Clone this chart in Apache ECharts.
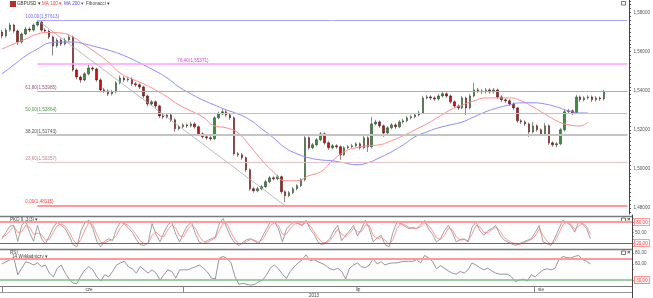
<!DOCTYPE html>
<html><head><meta charset="utf-8">
<script src="https://cdn.jsdelivr.net/npm/echarts@6/dist/echarts.min.js"></script>
<style>html,body{margin:0;padding:0;background:#fff}#c{width:653px;height:298px}</style>
</head><body><div id="c"></div>
<script>
// ---- price candles (GBPUSD) ----
const open = [1.5700,1.5680,1.5710,1.5736,1.5705,1.5649,1.5690,1.5715,1.5710,1.5736,
1.5751,1.5710,1.5705,1.5675,1.5629,1.5659,1.5639,1.5659,1.5675,1.5506,
1.5470,1.5455,1.5486,1.5516,1.5511,1.5455,1.5404,1.5399,1.5384,1.5394,
1.5440,1.5465,1.5455,1.5460,1.5435,1.5430,1.5419,1.5373,1.5332,1.5343,
1.5322,1.5271,1.5266,1.5276,1.5251,1.5205,1.5215,1.5225,1.5220,1.5230,
1.5215,1.5179,1.5164,1.5159,1.5154,1.5261,1.5281,1.5292,1.5276,1.5261,
1.5077,1.5072,1.5057,1.4995,1.4898,1.4888,1.4898,1.4909,1.4934,1.4954,
1.4949,1.4960,1.4883,1.4863,1.4878,1.4898,1.4914,1.4944,1.5159,1.5108,
1.5123,1.5149,1.5179,1.5133,1.5108,1.5118,1.5113,1.5072,1.5108,1.5113,
1.5118,1.5128,1.5108,1.5159,1.5113,1.5230,1.5240,1.5220,1.5184,1.5210,
1.5225,1.5215,1.5240,1.5246,1.5261,1.5266,1.5276,1.5286,1.5363,1.5368,
1.5363,1.5358,1.5373,1.5384,1.5373,1.5343,1.5322,1.5312,1.5363,1.5312,
1.5373,1.5404,1.5399,1.5394,1.5404,1.5394,1.5404,1.5368,1.5353,1.5348,
1.5332,1.5312,1.5246,1.5240,1.5230,1.5189,1.5220,1.5200,1.5179,1.5220,
1.5133,1.5123,1.5128,1.5200,1.5292,1.5297,1.5286,1.5368,1.5353,1.5363,
1.5368,1.5353,1.5363,1.5358];
const close = [1.5680,1.5710,1.5736,1.5705,1.5649,1.5690,1.5715,1.5710,1.5736,1.5751,
1.5710,1.5705,1.5675,1.5629,1.5659,1.5639,1.5659,1.5675,1.5506,1.5470,
1.5455,1.5486,1.5516,1.5511,1.5455,1.5404,1.5399,1.5384,1.5394,1.5440,
1.5465,1.5455,1.5460,1.5435,1.5430,1.5419,1.5373,1.5332,1.5343,1.5322,
1.5271,1.5266,1.5276,1.5251,1.5205,1.5215,1.5225,1.5220,1.5230,1.5215,
1.5179,1.5164,1.5159,1.5154,1.5261,1.5281,1.5292,1.5276,1.5261,1.5077,
1.5072,1.5057,1.4995,1.4898,1.4888,1.4898,1.4909,1.4934,1.4954,1.4949,
1.4960,1.4883,1.4863,1.4878,1.4898,1.4914,1.4944,1.5159,1.5108,1.5123,
1.5149,1.5179,1.5133,1.5108,1.5118,1.5113,1.5072,1.5108,1.5113,1.5118,
1.5128,1.5108,1.5159,1.5113,1.5230,1.5240,1.5220,1.5184,1.5210,1.5225,
1.5215,1.5240,1.5246,1.5261,1.5266,1.5276,1.5286,1.5363,1.5368,1.5363,
1.5358,1.5373,1.5384,1.5373,1.5343,1.5322,1.5312,1.5363,1.5312,1.5373,
1.5404,1.5399,1.5394,1.5404,1.5394,1.5404,1.5368,1.5353,1.5348,1.5332,
1.5312,1.5246,1.5240,1.5230,1.5189,1.5220,1.5200,1.5179,1.5220,1.5133,
1.5123,1.5128,1.5200,1.5292,1.5297,1.5286,1.5368,1.5353,1.5363,1.5368,
1.5353,1.5363,1.5358,1.5394];
const low = [1.5668,1.5672,1.5702,1.5697,1.5634,1.5641,1.5684,1.5699,1.5703,1.5728,
1.5702,1.5694,1.5664,1.5580,1.5620,1.5628,1.5631,1.5650,1.5498,1.5458,
1.5440,1.5448,1.5478,1.5500,1.5446,1.5392,1.5388,1.5373,1.5376,1.5387,
1.5432,1.5444,1.5446,1.5424,1.5420,1.5408,1.5362,1.5320,1.5324,1.5312,
1.5261,1.5256,1.5258,1.5240,1.5190,1.5197,1.5207,1.5210,1.5212,1.5206,
1.5170,1.5155,1.5149,1.5144,1.5148,1.5254,1.5274,1.5266,1.5251,1.5068,
1.5062,1.5046,1.4985,1.4888,1.4878,1.4880,1.4890,1.4902,1.4926,1.4940,
1.4941,1.4873,1.4830,1.4855,1.4870,1.4890,1.4906,1.4936,1.5098,1.5100,
1.5115,1.5142,1.5124,1.5098,1.5100,1.5103,1.5046,1.5065,1.5100,1.5105,
1.5110,1.5098,1.5100,1.5087,1.5105,1.5222,1.5210,1.5164,1.5176,1.5202,
1.5205,1.5208,1.5232,1.5238,1.5253,1.5258,1.5268,1.5279,1.5355,1.5352,
1.5348,1.5350,1.5365,1.5363,1.5333,1.5312,1.5302,1.5305,1.5276,1.5305,
1.5366,1.5389,1.5384,1.5386,1.5384,1.5386,1.5358,1.5343,1.5338,1.5322,
1.5302,1.5236,1.5230,1.5220,1.5164,1.5181,1.5190,1.5169,1.5171,1.5123,
1.5113,1.5110,1.5120,1.5192,1.5284,1.5276,1.5280,1.5343,1.5345,1.5355,
1.5343,1.5345,1.5348,1.5350];
const high = [1.5712,1.5720,1.5746,1.5742,1.5712,1.5698,1.5726,1.5724,1.5745,1.5761,
1.5757,1.5719,1.5712,1.5683,1.5668,1.5667,1.5670,1.5690,1.5682,1.5514,
1.5478,1.5495,1.5532,1.5524,1.5518,1.5463,1.5414,1.5407,1.5404,1.5448,
1.5478,1.5474,1.5471,1.5468,1.5444,1.5438,1.5425,1.5380,1.5352,1.5350,
1.5328,1.5280,1.5286,1.5283,1.5258,1.5224,1.5234,1.5232,1.5240,1.5238,
1.5222,1.5186,1.5172,1.5167,1.5270,1.5292,1.5307,1.5300,1.5284,1.5268,
1.5086,1.5081,1.5063,1.5002,1.4906,1.4908,1.4918,1.4944,1.4964,1.4962,
1.4970,1.4966,1.4890,1.4887,1.4907,1.4922,1.4952,1.5174,1.5166,1.5133,
1.5158,1.5189,1.5186,1.5140,1.5127,1.5126,1.5120,1.5116,1.5122,1.5128,
1.5137,1.5135,1.5170,1.5166,1.5266,1.5251,1.5247,1.5227,1.5219,1.5234,
1.5233,1.5249,1.5256,1.5270,1.5276,1.5286,1.5297,1.5374,1.5378,1.5376,
1.5371,1.5384,1.5394,1.5391,1.5380,1.5350,1.5330,1.5373,1.5370,1.5384,
1.5440,1.5414,1.5408,1.5414,1.5412,1.5414,1.5410,1.5376,1.5360,1.5356,
1.5340,1.5318,1.5254,1.5248,1.5237,1.5240,1.5228,1.5207,1.5235,1.5227,
1.5140,1.5137,1.5210,1.5302,1.5307,1.5304,1.5378,1.5375,1.5372,1.5377,
1.5375,1.5372,1.5370,1.5404];

// ---- moving averages, read at bar slots ----
const maSlots = [0,3,6,9,12,15,18,21,24,27,30,33,36,39,42,45,48,51,54,57,60,63,66,69,72,75,78,81,84,87,90,93,96,99,102,105,108,111,114,117,120,123,126,129,132,135,138,141,144,147,149];
const ma100 = [1.5613,1.5639,1.5664,1.5690,1.5698,1.5695,1.5675,1.5634,1.5593,1.5547,1.5491,1.5460,1.5435,1.5404,1.5368,1.5327,1.5297,1.5266,1.5220,1.5210,1.5184,1.5118,1.5046,1.4985,1.4939,1.4939,1.4965,1.4985,1.5041,1.5087,1.5108,1.5118,1.5123,1.5144,1.5169,1.5200,1.5230,1.5266,1.5302,1.5327,1.5348,1.5363,1.5363,1.5363,1.5348,1.5317,1.5281,1.5246,1.5225,1.5220,1.5240];
const ma200 = [1.5486,1.5532,1.5578,1.5613,1.5644,1.5649,1.5649,1.5639,1.5624,1.5608,1.5588,1.5562,1.5532,1.5501,1.5465,1.5419,1.5384,1.5353,1.5327,1.5302,1.5281,1.5251,1.5205,1.5159,1.5108,1.5077,1.5057,1.5046,1.5041,1.5031,1.5021,1.5031,1.5057,1.5087,1.5123,1.5164,1.5189,1.5210,1.5225,1.5240,1.5266,1.5292,1.5312,1.5327,1.5338,1.5338,1.5332,1.5317,1.5297,1.5286,1.5286];

// ---- oscillators ----
const stochK = [32,50,68,70,25,70,84,50,25,70,32,18,40,65,80,70,61,40,15,9,
55,78,85,62,25,9,25,32,27,60,80,75,62,51,30,15,13,20,75,45,
23,50,72,80,45,23,50,70,80,45,22,18,27,32,37,75,90,61,35,20,
13,22,30,32,25,18,40,61,82,80,61,23,60,72,80,75,70,85,60,45,
23,15,22,32,55,70,27,42,55,70,40,60,85,61,23,35,42,15,9,51,
80,75,68,61,64,61,72,85,60,45,23,32,55,70,51,23,30,32,23,65,
80,55,42,55,61,70,45,30,23,18,13,18,23,28,32,50,70,23,18,13,
35,61,85,78,70,51,80,75,61,32];
const stochD = [38,42,55,68,50,52,70,65,45,48,45,28,30,50,70,74,68,52,30,16,
30,58,78,72,45,22,20,26,30,42,64,76,70,58,44,26,18,18,42,52,
40,38,58,72,62,40,38,58,72,62,38,24,22,28,34,55,78,74,50,30,
18,18,25,30,28,22,30,50,70,78,70,45,45,62,74,76,72,78,70,52,
35,22,20,26,42,60,45,38,48,62,52,52,72,70,42,32,36,28,16,30,
62,76,72,65,62,62,66,78,70,55,35,30,42,62,58,38,28,30,27,45,
70,66,50,50,58,65,56,38,28,22,17,16,20,25,30,40,60,42,25,16,
25,48,72,80,74,60,68,76,68,45];
const rsi = [60,64,68,71,40,52,64,62,58,62,55,58,43,36,52,58,43,32,24,24,
38,49,55,49,36,28,40,36,46,58,62,65,55,51,43,55,49,43,49,43,
30,40,49,46,34,49,49,49,52,55,58,52,45,34,32,71,74,70,62,36,
22,24,22,20.5,22,27,30,40,53,58,51,41,33,46,55,62,68,77,66,68,
64,61,57,51,49,52,46,32,52,58,62,55,53,58,70,60,64,58,61,62,
62,64,65,65,65,68,62,76,71,65,51,57,52,47,43,41,46,43,49,62,
58,53,49,52,47,43,41,41,41,36,27,30,32,28,40,36,43,49,51,49,
52,68,74,72,71,74,76,68,65,60];

// ---- levels & ticks ----
const fibHigh = 1.57613, fibLow = 1.48115;
const fibPcts = [100, 76.4, 61.8, 50, 38.2, 23.6, 0];
const fibLineColors = ['#a9a9ff','#ff9cff','#bba6ae','#a9d3a9','#c4c4c4','#e3c5c5','#ff9a9a'];
const fibTextColors = ['#6a6aff','#e040e0','#8a5a7a','#4e9a4e','#505050','#c08a8a','#ff3b3b'];
const fibWidths = [1,1.5,1.2,1.2,2,1.2,2];
const priceTicks = [1.48,1.50,1.52,1.54,1.56,1.58];
const stochTicks = [20,50,80];
const rsiTicks = [30,40,60,70,80];
const months = ['cze','lip','sie'];
const year = '2013';

const N = 160;
const cats = Array.from({length: N}, (_, i) => String(i));
const candles = open.map((o, i) => [o, close[i], low[i], high[i]]);
const FONT = 'Liberation Sans, Arial, sans-serif';
const FS = 4.6;
const fmt = (v, d) => v.toFixed(d).replace('.', ',');

const fibMark = fibPcts.map((p, k) => {
  const v = fibLow + (fibHigh - fibLow) * p / 100;
  return [{
    coord: [9, v],
    lineStyle: {color: fibLineColors[k], width: fibWidths[k], type: 'solid'},
    label: {show: true, position: 'insideStartTop', distance: p === 76.4 ? [140, 1] : [-12, 1],
      formatter: fmt(p, 2) + '(' + fmt(v, 5) + ')', color: fibTextColors[k], fontSize: FS, fontFamily: FONT}
  }, {coord: [159, v]}];
});
fibMark.push([{coord: [9, fibHigh], lineStyle: {color: '#ababab', width: 0.8, type: 'solid'}, label: {show: false}}, {coord: [72, fibLow]}]);

const minorPrice = [];
for (let v = 1.478; v <= 1.5861; v += 0.002) minorPrice.push(+v.toFixed(3));

const hideX = (g) => ({type: 'category', gridIndex: g, data: cats, boundaryGap: true,
  axisLine: {show: false}, axisTick: {show: false}, axisLabel: {show: false}, splitLine: {show: false}});

const boxRich = {
  n: {color: '#555', fontSize: FS, fontFamily: FONT},
  b: {color: '#ff3030', fontSize: FS, fontFamily: FONT, borderColor: '#ff7070', borderWidth: 0.8, padding: [0.8, 1.2, 0.3, 1.2], backgroundColor: '#fff'}
};

const chart = echarts.init(document.getElementById('c'), null, {renderer: 'canvas'});
chart.setOption({
  animation: false,
  backgroundColor: '#ffffff',
  grid: [
    {left: 0, right: 21, top: 0, height: 214},
    {left: 0, right: 21, top: 215, height: 35},
    {left: 0, right: 21, top: 250, height: 36}
  ],
  xAxis: [hideX(0), hideX(1), hideX(2)],
  yAxis: [
    {type: 'value', gridIndex: 0, position: 'right', min: 1.4769, max: 1.5864,
      splitLine: {show: false},
      axisLine: {show: true, lineStyle: {color: '#444', width: 1}},
      axisTick: {show: true, customValues: minorPrice, length: 1.5, lineStyle: {color: '#444'}},
      axisLabel: {customValues: priceTicks, hideOverlap: false, formatter: v => fmt(v, 5), fontSize: FS, color: '#555', margin: 4, fontFamily: FONT}},
    {type: 'value', gridIndex: 1, position: 'right', min: 0, max: 100,
      splitLine: {show: false},
      axisLine: {show: true, lineStyle: {color: '#444', width: 1}},
      axisTick: {show: true, customValues: [10,20,30,40,50,60,70,80,90], length: 1.5, lineStyle: {color: '#444'}},
      axisLabel: {customValues: stochTicks, hideOverlap: false, showMinLabel: true, showMaxLabel: true, margin: 3, rich: boxRich,
        formatter: v => (v === 50 ? '{n|' : '{b|') + fmt(v, 2) + '}'}},
    {type: 'value', gridIndex: 2, position: 'right', min: 19, max: 86,
      splitLine: {show: false},
      axisLine: {show: true, lineStyle: {color: '#444', width: 1}},
      axisTick: {show: true, customValues: [30,40,50,60,70,80], length: 1.5, lineStyle: {color: '#444'}},
      axisLabel: {customValues: rsiTicks, hideOverlap: false, showMinLabel: true, showMaxLabel: true, margin: 3, rich: boxRich,
        formatter: v => ((v === 70 || v === 30) ? '{b|' : '{n|') + fmt(v, 2) + '}'}}
  ],
  series: [
    {type: 'candlestick', xAxisIndex: 0, yAxisIndex: 0, data: candles, barWidth: 2,
      itemStyle: {color: '#3d8d3d', color0: '#c81414', borderColor: '#1a301a', borderColor0: '#300606', borderWidth: 0.5},
      markLine: {silent: true, symbol: ['none', 'none'], animation: false, data: fibMark}},
    {type: 'line', xAxisIndex: 0, yAxisIndex: 0, data: maSlots.map((s, k) => [s, ma100[k]]),
      smooth: true, showSymbol: false, lineStyle: {color: '#ff8a8a', width: 1}},
    {type: 'line', xAxisIndex: 0, yAxisIndex: 0, data: maSlots.map((s, k) => [s, ma200[k]]),
      smooth: true, showSymbol: false, lineStyle: {color: '#8a8aff', width: 1}},
    {type: 'line', xAxisIndex: 1, yAxisIndex: 1, data: stochK, showSymbol: false,
      lineStyle: {color: '#8a8a8a', width: 0.8},
      markLine: {silent: true, symbol: ['none', 'none'], label: {show: false},
        data: [{yAxis: 80, lineStyle: {color: '#ff9a9a', width: 2, type: 'solid'}},
               {yAxis: 20, lineStyle: {color: '#6a6a6a', width: 1.2, type: 'solid'}}]}},
    {type: 'line', xAxisIndex: 1, yAxisIndex: 1, data: stochD, showSymbol: false,
      lineStyle: {color: '#ff8080', width: 0.8}},
    {type: 'line', xAxisIndex: 2, yAxisIndex: 2, data: rsi, showSymbol: false,
      lineStyle: {color: '#7a7a7a', width: 0.8},
      markLine: {silent: true, symbol: ['none', 'none'], label: {show: false},
        data: [{yAxis: 70, lineStyle: {color: '#ff9a9a', width: 2, type: 'solid'}},
               {yAxis: 30, lineStyle: {color: '#7fbf7f', width: 1.5, type: 'solid'}}]}}
  ],
  graphic: [
    {type: 'line', shape: {x1: 0, y1: 216.5, x2: 632, y2: 216.5}, style: {stroke: '#7a7a7a', lineWidth: 1.5}},
    {type: 'line', shape: {x1: 0, y1: 249.5, x2: 632, y2: 249.5}, style: {stroke: '#7a7a7a', lineWidth: 1.5}},
    {type: 'line', shape: {x1: 0, y1: 286.5, x2: 632, y2: 286.5}, style: {stroke: '#7a7a7a', lineWidth: 1}},
    {type: 'line', shape: {x1: 0, y1: 292.5, x2: 632, y2: 292.5}, style: {stroke: '#9a9a9a', lineWidth: 1}},
    {type: 'line', shape: {x1: 632.5, y1: 286, x2: 632.5, y2: 298}, style: {stroke: '#444', lineWidth: 1}},
    {type: 'line', shape: {x1: 2.5, y1: 286.5, x2: 2.5, y2: 292.5}, style: {stroke: '#888', lineWidth: 1}},
    {type: 'line', shape: {x1: 183.5, y1: 286.5, x2: 183.5, y2: 292.5}, style: {stroke: '#888', lineWidth: 1}},
    {type: 'line', shape: {x1: 534.5, y1: 286.5, x2: 534.5, y2: 292.5}, style: {stroke: '#888', lineWidth: 1}},
    {type: 'text', x: 89, y: 289.8, style: {text: months[0], fontSize: FS, fill: '#444', align: 'center', verticalAlign: 'middle', fontFamily: FONT}},
    {type: 'text', x: 358, y: 289.8, style: {text: months[1], fontSize: FS, fill: '#444', align: 'center', verticalAlign: 'middle', fontFamily: FONT}},
    {type: 'text', x: 541, y: 289.8, style: {text: months[2], fontSize: FS, fill: '#444', align: 'center', verticalAlign: 'middle', fontFamily: FONT}},
    {type: 'text', x: 314, y: 295.6, style: {text: year, fontSize: FS, fill: '#444', align: 'center', verticalAlign: 'middle', fontFamily: FONT}},
    {type: 'rect', shape: {x: 10, y: 1, width: 6, height: 6}, style: {fill: '#b0302a'}},
    {type: 'text', x: 17, y: 4.2, style: {text: 'GBPUSD ▾', fontSize: FS, fill: '#333', verticalAlign: 'middle', fontFamily: FONT}},
    {type: 'text', x: 42, y: 4.2, style: {text: 'MA 100 ▾', fontSize: FS, fill: '#ff3a3a', verticalAlign: 'middle', fontFamily: FONT}},
    {type: 'text', x: 64, y: 4.2, style: {text: 'MA 200 ▾', fontSize: FS, fill: '#4a4aff', verticalAlign: 'middle', fontFamily: FONT}},
    {type: 'text', x: 86, y: 4.2, style: {text: 'Fibonacci ▾', fontSize: FS, fill: '#444', verticalAlign: 'middle', fontFamily: FONT}},
    {type: 'text', x: 10, y: 219.5, style: {text: 'PKD 9, 3(3) ▾', fontSize: FS, fill: '#444', verticalAlign: 'middle', fontFamily: FONT}},
    {type: 'text', x: 10, y: 252.5, style: {text: 'RSI', fontSize: FS, fill: '#444', verticalAlign: 'middle', fontFamily: FONT}},
    {type: 'text', x: 12, y: 257, style: {text: '14 Wykładniczy ▾', fontSize: FS, fill: '#444', verticalAlign: 'middle', fontFamily: FONT}},
    {type: 'rect', shape: {x: 621.5, y: 1.5, width: 4, height: 3.5}, style: {fill: 'none', stroke: '#555', lineWidth: 0.8}},
    {type: 'rect', shape: {x: 621.5, y: 218, width: 4, height: 3.5}, style: {fill: 'none', stroke: '#555', lineWidth: 0.8}},
    {type: 'text', x: 627, y: 219.8, style: {text: '×', fontSize: 6, fill: '#333', verticalAlign: 'middle', fontWeight: 'bold', fontFamily: FONT}},
    {type: 'rect', shape: {x: 621.5, y: 251, width: 4, height: 3.5}, style: {fill: 'none', stroke: '#555', lineWidth: 0.8}},
    {type: 'text', x: 627, y: 252.8, style: {text: '×', fontSize: 6, fill: '#333', verticalAlign: 'middle', fontWeight: 'bold', fontFamily: FONT}}
  ]
});
</script></body></html>
